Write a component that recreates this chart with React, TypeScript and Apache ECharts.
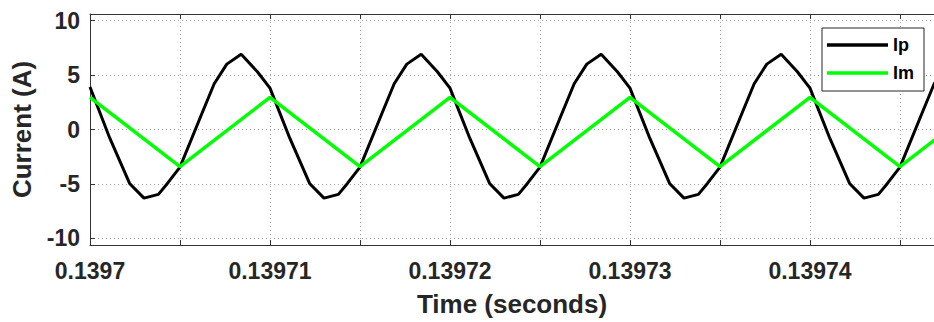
import React, { useEffect, useRef } from "react";
import * as echarts from "echarts";

// Ip: black sampled current (time in s, value in A)
const ipTime = [
  0.1397000, 0.1397011, 0.1397022, 0.1397030, 0.1397038, 0.1397043, 0.1397050, 0.1397062, 0.1397069, 0.1397076, 0.1397084, 0.1397093,
  0.1397100, 0.1397111, 0.1397122, 0.1397130, 0.1397138, 0.1397143, 0.1397150, 0.1397162, 0.1397169, 0.1397176, 0.1397184, 0.1397193,
  0.1397200, 0.1397211, 0.1397222, 0.1397230, 0.1397238, 0.1397243, 0.1397250, 0.1397262, 0.1397269, 0.1397276, 0.1397284, 0.1397293,
  0.1397300, 0.1397311, 0.1397322, 0.1397330, 0.1397338, 0.1397343, 0.1397350, 0.1397362, 0.1397369, 0.1397376, 0.1397384, 0.1397393,
  0.1397400, 0.1397411, 0.1397422, 0.1397430, 0.1397438, 0.1397443, 0.1397450, 0.1397462, 0.1397469, 0.1397476,
];
const ipValue = [
  3.9, -0.8, -4.95, -6.3, -5.95, -4.95, -3.45, 1.4, 4.2, 6.0, 6.9, 5.3,
  3.8, -0.8, -4.95, -6.3, -5.95, -4.95, -3.45, 1.4, 4.2, 6.0, 6.9, 5.3,
  3.8, -0.8, -4.95, -6.3, -5.95, -4.95, -3.45, 1.4, 4.2, 6.0, 6.9, 5.3,
  3.8, -0.8, -4.95, -6.3, -5.95, -4.95, -3.45, 1.4, 4.2, 6.0, 6.9, 5.3,
  3.8, -0.8, -4.95, -6.3, -5.95, -4.95, -3.45, 1.4, 4.2, 6.0,
];

// Im: green triangular current
const imTime = [
  0.1397, 0.139705, 0.13971, 0.139715, 0.13972, 0.139725, 0.13973, 0.139735, 0.13974, 0.139745, 0.13975,
];
const imValue = [2.95, -3.4, 2.95, -3.4, 2.95, -3.4, 2.95, -3.4, 2.95, -3.4, 2.95];

const seriesNames = ["Ip", "Im"];
const xMin = 0.1397;
const xMax = 0.13974689;
const xStep = 0.000005;
const yMin = -10.6;
const yMax = 10.6;

const TXT = "#262626";
const FONT = "'Liberation Sans', Arial, Helvetica, sans-serif";

export default function App() {
  const ref = useRef<HTMLDivElement>(null);
  useEffect(() => {
    if (!ref.current) return;
    const chart = echarts.init(ref.current, undefined, { renderer: "svg" });
    const xLabel = (v: number) => {
      const k = Math.round((v - xMin) / xStep);
      if (k % 2 !== 0) return "";
      return String(Math.round(v * 1e5) / 1e5);
    };
    const gridLine = { show: true, lineStyle: { color: "#a0a0a0", type: [1, 3] as any, width: 1 } };
    chart.setOption({
      animation: false,
      textStyle: { fontFamily: FONT },
      grid: { left: 90, right: 0, top: 14, bottom: 76, containLabel: false },
      legend: {
        orient: "vertical",
        left: 822,
        top: 28,
        data: seriesNames,
        icon: "rect",
        itemWidth: 61,
        itemHeight: 3.5,
        itemGap: 8,
        padding: [7, 10, 8, 5],
        borderColor: "#262626",
        borderWidth: 1,
        backgroundColor: "#fff",
        textStyle: { fontFamily: FONT, fontSize: 18, fontWeight: "bold", color: "#000", lineHeight: 20 },
      },
      xAxis: [
        {
          type: "value",
          min: xMin,
          max: xMax,
          interval: xStep,
          name: "Time (seconds)",
          nameLocation: "middle",
          nameGap: 46,
          nameTextStyle: { fontFamily: FONT, fontSize: 26, fontWeight: "bold", color: TXT },
          axisLine: { show: true, onZero: false, lineStyle: { color: "#333", width: 1 } },
          axisTick: { show: true, inside: true, length: 5, lineStyle: { color: "#333" } },
          axisLabel: {
            formatter: xLabel,
            margin: 14,
            fontFamily: FONT,
            fontSize: 23,
            fontWeight: "bold",
            color: TXT,
            showMinLabel: true,
            showMaxLabel: false,
            hideOverlap: false,
          },
          splitLine: gridLine,
        },
        {
          type: "value",
          position: "top",
          min: xMin,
          max: xMax,
          interval: xStep,
          axisLine: { show: true, onZero: false, lineStyle: { color: "#333", width: 1 } },
          axisTick: { show: true, inside: true, length: 5, lineStyle: { color: "#333" } },
          axisLabel: { show: false },
          splitLine: { show: false },
        },
      ],
      yAxis: {
        type: "value",
        min: yMin,
        max: yMax,
        name: "Current (A)",
        nameLocation: "middle",
        nameGap: 55,
        nameTextStyle: { fontFamily: FONT, fontSize: 26, fontWeight: "bold", color: TXT },
        axisLine: { show: true, onZero: false, lineStyle: { color: "#333", width: 1 } },
        axisTick: { show: true, inside: true, length: 5, lineStyle: { color: "#333" } },
        axisLabel: {
          formatter: (v: number) => (Math.abs(v - Math.round(v / 5) * 5) < 1e-6 ? String(Math.round(v)) : ""),
          margin: 10,
          fontFamily: FONT,
          fontSize: 23,
          fontWeight: "bold",
          color: TXT,
        },
        splitLine: gridLine,
      },
      series: [
        {
          name: seriesNames[0],
          type: "line",
          data: ipTime.map((t, i) => [t, ipValue[i]]),
          showSymbol: false,
          clip: true,
          itemStyle: { color: "#000" },
          lineStyle: { color: "#000", width: 3 },
        },
        {
          name: seriesNames[1],
          type: "line",
          data: imTime.map((t, i) => [t, imValue[i]]),
          showSymbol: false,
          clip: true,
          itemStyle: { color: "#00ff00" },
          lineStyle: { color: "#00ff00", width: 3.5 },
        },
      ],
    });
    return () => chart.dispose();
  }, []);
  return <div ref={ref} style={{ width: 934, height: 322, position: "absolute", left: 0, top: 0 }} />;
}
